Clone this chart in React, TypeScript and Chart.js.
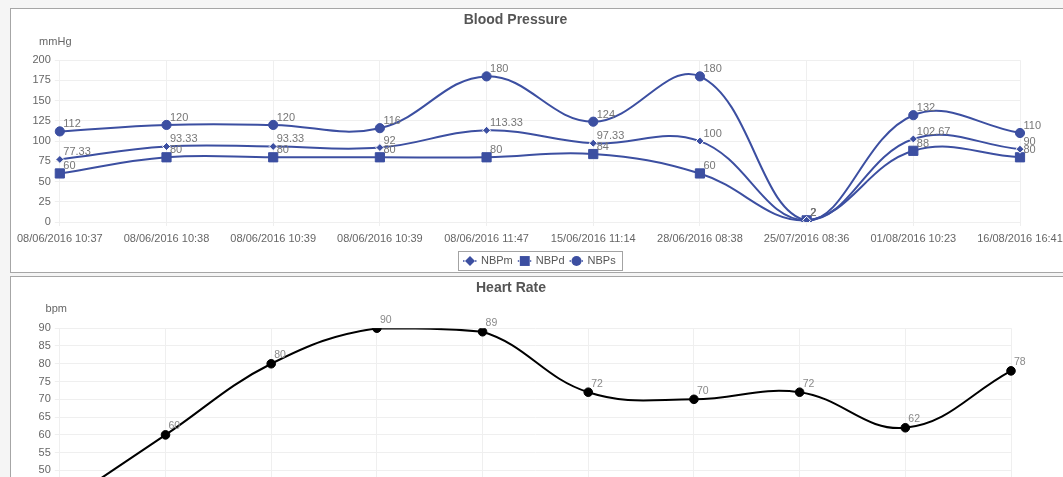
import React, { useEffect, useRef } from 'react';
import { Chart, registerables } from 'chart.js';

Chart.register(...registerables);

// ---- data ----
const timeLabels = [
  '08/06/2016 10:37',
  '08/06/2016 10:38',
  '08/06/2016 10:39',
  '08/06/2016 10:39',
  '08/06/2016 11:47',
  '15/06/2016 11:14',
  '28/06/2016 08:38',
  '25/07/2016 08:36',
  '01/08/2016 10:23',
  '16/08/2016 16:41',
];
const nbpmValues = [77.33, 93.33, 93.33, 92, 113.33, 97.33, 100, 2, 102.67, 90];
const nbpdValues = [60, 80, 80, 80, 80, 84, 60, 2, 88, 80];
const nbpsValues = [112, 120, 120, 116, 180, 124, 180, 2, 132, 110];
const heartRateValues = [40, 60, 80, 90, 89, 72, 70, 72, 62, 78];

const bpAxis = { min: 0, max: 200, step: 25, unit: 'mmHg' };
const hrAxis = { min: 40, max: 90, step: 5, unit: 'bpm' };

const FONT = '"Liberation Sans", Arial, Helvetica, sans-serif';
const BLUE = '#3c4fa1';
const GRID = '#efefef';
const TICK = '#666666';

function unitPlugin(text: string, dx: number, dy: number) {
  return {
    id: 'unitLabel',
    afterDraw(chart: any) {
      const { ctx, chartArea } = chart;
      ctx.save();
      ctx.font = `11px ${FONT}`;
      ctx.fillStyle = TICK;
      ctx.textAlign = 'center';
      ctx.textBaseline = 'middle';
      ctx.fillText(text, chartArea.left + dx, chartArea.top + dy);
      ctx.restore();
    },
  };
}

function valueLabelPlugin(size: number, color: string, dx: number, dy: number) {
  return {
    id: 'valueLabels',
    afterDatasetsDraw(chart: any) {
      const ctx = chart.ctx;
      ctx.save();
      ctx.font = `${size}px ${FONT}`;
      ctx.fillStyle = color;
      ctx.textAlign = 'left';
      ctx.textBaseline = 'alphabetic';
      chart.data.datasets.forEach((ds: any, i: number) => {
        const meta = chart.getDatasetMeta(i);
        meta.data.forEach((pt: any, j: number) => {
          ctx.fillText(String(ds.data[j]), pt.x + dx, pt.y + dy);
        });
      });
      ctx.restore();
    },
  };
}

function drawMarker(ctx: CanvasRenderingContext2D, style: string, x: number, y: number, r: number, color: string) {
  ctx.beginPath();
  if (style === 'rectRot') {
    ctx.moveTo(x, y - r);
    ctx.lineTo(x + r, y);
    ctx.lineTo(x, y + r);
    ctx.lineTo(x - r, y);
    ctx.closePath();
  } else if (style === 'rect') {
    const s = r * Math.SQRT1_2;
    ctx.rect(x - s, y - s, 2 * s, 2 * s);
  } else {
    ctx.arc(x, y, r, 0, Math.PI * 2);
  }
  ctx.fillStyle = color;
  ctx.fill();
}

const boxLegendPlugin = {
  id: 'boxLegend',
  afterDraw(chart: any) {
    const ctx = chart.ctx;
    ctx.save();
    ctx.font = `11px ${FONT}`;
    const items = chart.data.datasets.map((ds: any) => ({
      label: ds.label,
      style: ds.pointStyle,
      color: ds.borderColor,
      w: ctx.measureText(ds.label).width,
    }));
    const lineW = 14;
    const gapText = 4;
    const gapItem = 5;
    const padL = 5;
    const padR = 6;
    let total = 0;
    items.forEach((it: any, i: number) => {
      total += lineW + gapText + it.w + (i > 0 ? gapItem : 0);
    });
    const boxW = total + padL + padR;
    const boxX = Math.round(chart.width / 2 - boxW / 2) - 1;
    const boxY = 242;
    const boxH = 19;
    ctx.strokeStyle = '#a3a3a3';
    ctx.lineWidth = 1;
    ctx.strokeRect(boxX + 0.5, boxY + 0.5, Math.round(boxW), boxH);
    const cy = boxY + boxH / 2 + 0.5;
    let x = boxX + padL;
    items.forEach((it: any) => {
      ctx.save();
      ctx.strokeStyle = it.color;
      ctx.lineWidth = 1.5;
      ctx.setLineDash([1.5, 1.5]);
      ctx.beginPath();
      ctx.moveTo(x, cy);
      ctx.lineTo(x + lineW, cy);
      ctx.stroke();
      ctx.restore();
      drawMarker(ctx, it.style, x + lineW / 2, cy, it.style === 'rect' ? 7 : 5, it.color);
      ctx.fillStyle = '#555555';
      ctx.textAlign = 'left';
      ctx.textBaseline = 'middle';
      ctx.fillText(it.label, x + lineW + gapText, cy);
      x += lineW + gapText + it.w + gapItem;
    });
    ctx.restore();
  },
};

function baseOptions(title: string, axis: any, yWidth: number, rightPad: number, xHeight: number) {
  return {
    responsive: false,
    animation: false,
    events: [],
    layout: { padding: { left: 0, right: rightPad, top: 0, bottom: 0 } },
    plugins: {
      legend: { display: false },
      tooltip: { enabled: false },
      title: {
        display: true,
        text: title,
        color: '#555555',
        font: { family: FONT, size: 14, weight: 'bold' },
        padding: { top: 3, bottom: 31.4 },
      },
    },
    scales: {
      x: {
        grid: { color: GRID, tickLength: 4, drawTicks: true },
        border: { display: false },
        ticks: {
          color: TICK,
          font: { family: FONT, size: 11 },
          padding: 6,
          maxRotation: 0,
          minRotation: 0,
          autoSkip: false,
        },
        afterFit(s: any) {
          s.height = xHeight;
        },
      },
      y: {
        min: axis.min,
        max: axis.max,
        grid: { color: GRID, tickLength: 5, drawTicks: true },
        border: { display: false },
        ticks: {
          stepSize: axis.step,
          color: TICK,
          font: { family: FONT, size: 11 },
          padding: 4,
        },
        afterFit(s: any) {
          s.width = yWidth;
        },
      },
    },
  };
}

function BloodPressureChart() {
  const ref = useRef<HTMLCanvasElement>(null);
  useEffect(() => {
    if (!ref.current) return;
    const common = { borderColor: BLUE, backgroundColor: BLUE, borderWidth: 2, tension: 0.4, fill: false, pointBorderColor: BLUE, pointBorderWidth: 1 };
    const chart = new Chart(ref.current, {
      type: 'line',
      data: {
        labels: timeLabels,
        datasets: [
          { ...common, label: 'NBPm', data: nbpmValues, pointStyle: 'rectRot', pointRadius: 4, pointBorderColor: '#ffffff' },
          { ...common, label: 'NBPd', data: nbpdValues, pointStyle: 'rect', pointRadius: 6.5 },
          { ...common, label: 'NBPs', data: nbpsValues, pointStyle: 'circle', pointRadius: 4.6 },
        ],
      },
      options: baseOptions('Blood Pressure', bpAxis, 47, 51, 50) as any,
      plugins: [unitPlugin(bpAxis.unit, -4.5, -18.3), valueLabelPlugin(11, '#777777', 3.5, -4), boxLegendPlugin],
    });
    return () => chart.destroy();
  }, []);
  return <canvas ref={ref} width={1060} height={263} style={{ display: 'block' }} />;
}

function HeartRateChart() {
  const ref = useRef<HTMLCanvasElement>(null);
  useEffect(() => {
    if (!ref.current) return;
    const chart = new Chart(ref.current, {
      type: 'line',
      data: {
        labels: timeLabels,
        datasets: [
          {
            label: 'HR',
            data: heartRateValues,
            borderColor: '#000000',
            backgroundColor: '#000000',
            borderWidth: 2,
            tension: 0.4,
            fill: false,
            pointStyle: 'circle',
            pointRadius: 4.3,
            pointBorderColor: '#000000',
            pointBorderWidth: 1,
          },
        ],
      },
      options: baseOptions('Heart Rate', hrAxis, 46, 59, 50) as any,
      plugins: [unitPlugin(hrAxis.unit, -3.5, -19.3), valueLabelPlugin(10.5, '#8a8a8a', 3, -5.5)],
    });
    return () => chart.destroy();
  }, []);
  return <canvas ref={ref} width={1059} height={279} style={{ display: 'block' }} />;
}

export default function App() {
  return (
    <div
      style={{
        position: 'fixed',
        left: 0,
        top: 0,
        width: 1063,
        height: 477,
        overflow: 'hidden',
        background: '#f5f5f5',
      }}
    >
      <div
        style={{
          position: 'absolute',
          left: 10,
          top: 8,
          width: 1060,
          height: 263,
          border: '1px solid #a6a6a6',
          background: '#ffffff',
        }}
      >
        <BloodPressureChart />
      </div>
      <div
        style={{
          position: 'absolute',
          left: 10,
          top: 276,
          width: 1059,
          height: 300,
          border: '1px solid #a6a6a6',
          background: '#ffffff',
        }}
      >
        <HeartRateChart />
      </div>
    </div>
  );
}
